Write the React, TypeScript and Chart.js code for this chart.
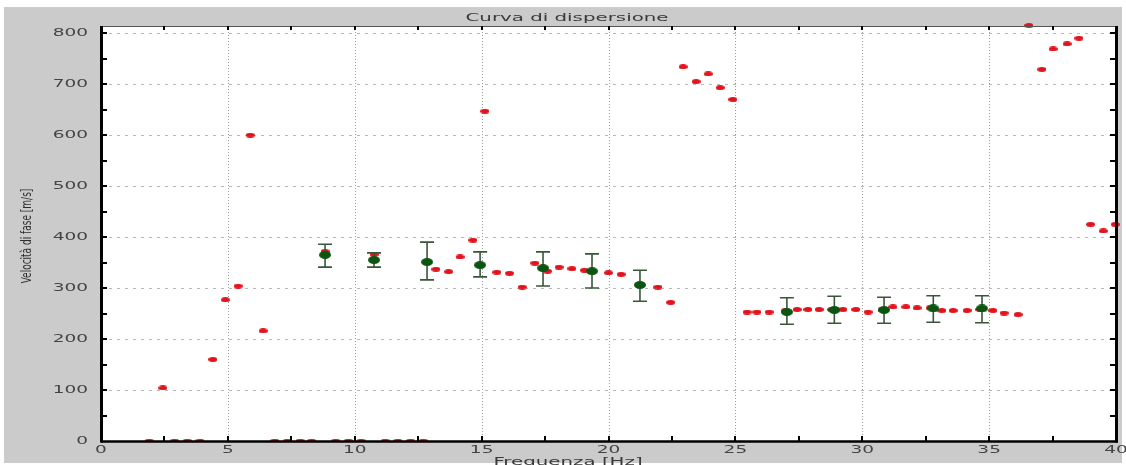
import React, { useEffect, useRef } from "react";
import { Chart, registerables } from "chart.js";

Chart.register(...registerables);

// ---- data ----
const redFreq = [
  1.9, 2.44, 2.9, 3.4, 3.9, 4.41, 4.9, 5.4, 5.88, 6.39,
  6.85, 7.35, 7.85, 8.3, 8.83, 9.25, 9.75, 10.25, 10.76,
  11.2, 11.7, 12.2, 12.7, 13.2, 13.7, 14.15, 14.66, 15.13,
  15.6, 16.1, 16.6, 17.1, 17.6, 18.05, 18.56, 19.05, 20.0, 20.5,
  21.95, 22.45, 22.94, 23.45, 23.93, 24.4, 24.9,
  25.46, 25.85, 26.33, 26.96, 27.43, 27.86, 28.3, 28.8, 29.24, 29.75,
  30.23, 30.78, 31.21, 31.72, 32.16, 32.67, 33.14, 33.58, 34.13, 34.64,
  35.15, 35.59, 36.14,
  36.57, 37.08, 37.52, 38.07, 38.54, 39.0, 39.5, 39.97,
];
const redVel = [
  0, 104, 0, 0, 0, 160, 277, 304, 600, 216,
  0, 0, 0, 0, 372, 0, 0, 0, 366,
  0, 0, 0, 0, 337, 332, 361, 394, 647,
  331, 329, 302, 349, 333, 341, 338, 335, 330, 327,
  302, 272, 734, 705, 720, 693, 670,
  253, 253, 253, 255, 258, 258, 258, 258, 258, 258,
  253, 257, 263, 263, 261, 261, 256, 256, 256, 258,
  256, 251, 248,
  815, 729, 769, 779, 790, 425, 412, 425,
];

const meanFreq = [8.83, 10.76, 12.85, 14.94, 17.42, 19.35, 21.24, 27.03, 28.9, 30.86, 32.8, 34.72];
const meanVel = [365, 355, 351, 345, 339, 333, 306, 253, 257, 257, 260, 260];
const errLow = [341, 341, 316, 322, 304, 300, 274, 229, 231, 231, 233, 232];
const errHigh = [386, 369, 390, 371, 371, 367, 335, 281, 284, 282, 285, 285];

const xTickValues = [0, 5, 10, 15, 20, 25, 30, 35, 40];
const yTickValues = [0, 100, 200, 300, 400, 500, 600, 700, 800];
const xMinorStep = 2.5;
const yMinorStep = 50;

const TITLE = "Curva di dispersione";
const X_TITLE = "Frequenza [Hz]";
const Y_TITLE = "Velocità di fase [m/s]";

const FONT = "'DejaVu Sans', Verdana, sans-serif";

function ellipseImg(w: number, h: number, color: string) {
  const c = document.createElement("canvas");
  c.width = w;
  c.height = h;
  const g = c.getContext("2d")!;
  g.fillStyle = color;
  g.beginPath();
  g.ellipse(w / 2, h / 2, w / 2, h / 2, 0, 0, Math.PI * 2);
  g.fill();
  return c;
}

function stretchedText(
  ctx: CanvasRenderingContext2D,
  text: string,
  x: number,
  y: number,
  size: number,
  sx: number,
  align: CanvasTextAlign,
  baseline: CanvasTextBaseline,
  color: string
) {
  ctx.save();
  ctx.translate(x, y);
  ctx.scale(sx, 1);
  ctx.font = `${size}px ${FONT}`;
  ctx.fillStyle = color;
  ctx.textAlign = align;
  ctx.textBaseline = baseline;
  ctx.fillText(text, 0, 0);
  ctx.restore();
}

const framePlugin = {
  id: "frame",
  beforeDraw(chart: any) {
    const { ctx, chartArea: a, width, height } = chart;
    ctx.save();
    ctx.fillStyle = "#ffffff";
    ctx.fillRect(0, 0, width, height);
    ctx.fillStyle = "#cbcbcb";
    ctx.fillRect(4, 7, width - 8, height - 9);
    ctx.fillStyle = "#ffffff";
    ctx.fillRect(a.left, a.top, a.right - a.left, a.bottom - a.top);
    ctx.restore();
  },
  beforeDatasetsDraw(chart: any) {
    const { ctx, chartArea: a, scales } = chart;
    const xs = scales.x;
    const ys = scales.y;
    ctx.save();
    // horizontal dashed grid
    ctx.strokeStyle = "#b8b8b8";
    ctx.lineWidth = 1;
    ctx.setLineDash([3, 5]);
    yTickValues.forEach((v) => {
      if (v === 0) return;
      const y = Math.round(ys.getPixelForValue(v)) + 0.5;
      ctx.beginPath();
      ctx.moveTo(a.left, y);
      ctx.lineTo(a.right, y);
      ctx.stroke();
    });
    // vertical dotted grid
    ctx.strokeStyle = "#9a9a9a";
    ctx.setLineDash([1, 2]);
    xTickValues.forEach((v) => {
      if (v === 0 || v === 40) return;
      const x = Math.round(xs.getPixelForValue(v)) + 0.5;
      ctx.beginPath();
      ctx.moveTo(x, a.top);
      ctx.lineTo(x, a.bottom);
      ctx.stroke();
    });
    ctx.restore();
  },
  beforeDatasetDraw(chart: any, args: any) {
    if (args.index !== 0) return;
    const { ctx, scales } = chart;
    const xs = scales.x;
    const ys = scales.y;
    ctx.save();
    ctx.strokeStyle = "#3a553a";
    ctx.lineWidth = 1.6;
    meanFreq.forEach((f, i) => {
      const x = xs.getPixelForValue(f);
      const y1 = ys.getPixelForValue(errLow[i]);
      const y2 = ys.getPixelForValue(errHigh[i]);
      ctx.beginPath();
      ctx.moveTo(x, y1);
      ctx.lineTo(x, y2);
      ctx.moveTo(x - 7, y1);
      ctx.lineTo(x + 7, y1);
      ctx.moveTo(x - 7, y2);
      ctx.lineTo(x + 7, y2);
      ctx.stroke();
    });
    ctx.restore();
  },
  afterDraw(chart: any) {
    const { ctx, chartArea: a, scales } = chart;
    const xs = scales.x;
    const ys = scales.y;
    ctx.save();
    // top border
    ctx.strokeStyle = "#555555";
    ctx.lineWidth = 1;
    ctx.beginPath();
    ctx.moveTo(a.left, a.top + 0.5);
    ctx.lineTo(a.right, a.top + 0.5);
    ctx.stroke();
    // minor/major ticks
    ctx.strokeStyle = "#000000";
    ctx.lineWidth = 2;
    for (let v = xMinorStep; v < 40; v += xMinorStep) {
      const x = Math.round(xs.getPixelForValue(v));
      ctx.beginPath();
      ctx.moveTo(x, a.bottom);
      ctx.lineTo(x, a.bottom - 5);
      ctx.moveTo(x, a.top);
      ctx.lineTo(x, a.top + 4);
      ctx.stroke();
    }
    for (let v = yMinorStep; v <= 800; v += yMinorStep) {
      const y = Math.round(ys.getPixelForValue(v));
      ctx.beginPath();
      ctx.moveTo(a.left, y);
      ctx.lineTo(a.left + 6, y);
      ctx.moveTo(a.right, y);
      ctx.lineTo(a.right - 6, y);
      ctx.stroke();
    }
    // thick axes
    ctx.lineWidth = 3;
    ctx.beginPath();
    ctx.moveTo(a.left + 0.5, a.top);
    ctx.lineTo(a.left + 0.5, a.bottom + 1.5);
    ctx.moveTo(a.right + 0.5, a.top);
    ctx.lineTo(a.right + 0.5, a.bottom + 1.5);
    ctx.stroke();
    ctx.lineWidth = 2.5;
    ctx.beginPath();
    ctx.moveTo(a.left, a.bottom + 0.5);
    ctx.lineTo(a.right + 2, a.bottom + 0.5);
    ctx.stroke();

    // tick labels
    yTickValues.forEach((v) => {
      stretchedText(ctx, String(v), a.left - 13, ys.getPixelForValue(v), 10, 1.85, "right", "middle", "#444444");
    });
    xTickValues.forEach((v) => {
      stretchedText(ctx, String(v), xs.getPixelForValue(v), a.bottom + 9.5, 10, 1.85, "center", "middle", "#444444");
    });

    // titles
    stretchedText(ctx, TITLE, 567, 21, 11, 1.8, "center", "alphabetic", "#3a3a3a");
    stretchedText(ctx, X_TITLE, 568, 465, 11, 1.8, "center", "alphabetic", "#3a3a3a");

    ctx.save();
    ctx.translate(27.5, 236);
    ctx.scale(1.6, 1);
    ctx.rotate(-Math.PI / 2);
    ctx.font = `9px ${FONT}`;
    ctx.fillStyle = "#2e2e2e";
    ctx.textAlign = "center";
    ctx.textBaseline = "middle";
    ctx.fillText(Y_TITLE, 0, 0);
    ctx.restore();

    ctx.restore();
  },
};

export default function App() {
  const canvasRef = useRef<HTMLCanvasElement | null>(null);

  useEffect(() => {
    const canvas = canvasRef.current;
    if (!canvas) return;
    const redImg = ellipseImg(9, 5, "#e3121b");
    const greenImg = ellipseImg(12, 8, "#0c5510");

    const chart = new Chart(canvas, {
      type: "scatter",
      data: {
        datasets: [
          {
            label: "media",
            data: meanFreq.map((f, i) => ({ x: f, y: meanVel[i] })),
            pointStyle: greenImg as any,
            order: 1,
            clip: false as any,
          },
          {
            label: "curva",
            data: redFreq.map((f, i) => ({ x: f, y: redVel[i] })),
            pointStyle: redImg as any,
            order: 2,
            clip: { left: false, top: false, right: false, bottom: 0 } as any,
          },
        ],
      },
      options: {
        animation: false,
        responsive: false,
        devicePixelRatio: 1,
        events: [],
        layout: { padding: { left: 101, right: 10, top: 26, bottom: 24 } },
        plugins: {
          legend: { display: false },
          tooltip: { enabled: false },
          title: { display: false },
        },
        scales: {
          x: {
            type: "linear",
            min: 0,
            max: 40,
            grid: { display: false },
            border: { display: false },
            ticks: { display: false },
            afterFit: (s: any) => {
              s.height = 0;
            },
          },
          y: {
            type: "linear",
            min: 0,
            max: 814,
            grid: { display: false },
            border: { display: false },
            ticks: { display: false },
            afterFit: (s: any) => {
              s.width = 0;
            },
          },
        },
      },
      plugins: [framePlugin],
    });
    return () => chart.destroy();
  }, []);

  return (
    <div style={{ position: "fixed", left: 0, top: 0, width: 1126, height: 465 }}>
      <canvas ref={canvasRef} width={1126} height={465} style={{ display: "block" }} />
    </div>
  );
}
